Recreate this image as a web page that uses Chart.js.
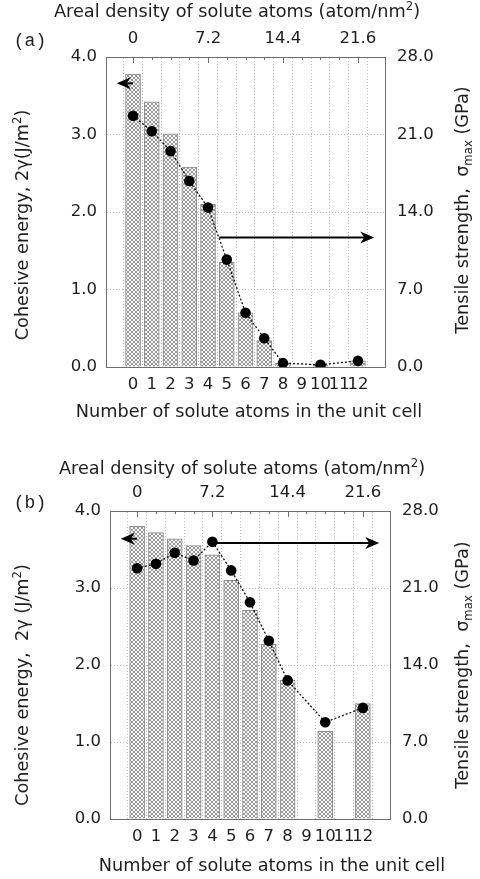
<!DOCTYPE html>
<html>
<head>
<meta charset="utf-8">
<script src="https://cdn.jsdelivr.net/npm/chart.js@4.4.1/dist/chart.umd.min.js"></script>
<style>
  html, body { margin: 0; padding: 0; background: #fff; }
  .box { position: relative; width: 480px; }
</style>
</head>
<body>
<div class="box" style="height:450px"><canvas id="graph-a"></canvas></div>
<div class="box" style="height:429px"><canvas id="graph-b"></canvas></div>
<script>
// x categories: number of solute atoms in the unit cell
const atoms = [0, 1, 2, 3, 4, 5, 6, 7, 8, 9, 10, 11, 12];
// top axis: areal density (atom/nm2) per atom
const densityPerAtom = 1.8;
const densityTicks = [0, 7.2, 14.4, 21.6];

// panel (a)
const energyA   = [3.78, 3.42, 3.01, 2.58, 2.10, 1.35, 0.70, 0.34, 0.05, null, 0.02, null, 0.08];
const strengthA = [22.7, 21.3, 19.5, 16.8, 14.4, 9.7, 4.9, 2.6, 0.35, null, 0.2, null, 0.55];
// arrows: [start atom, value]  left one on energy axis, right one on strength axis
const leftArrowA  = [0, 3.66];
const rightArrowA = [4.6, 11.7];

// panel (b)
const energyB   = [3.80, 3.72, 3.64, 3.55, 3.43, 3.10, 2.71, 2.27, 1.80, null, 1.14, null, 1.50];
const strengthB = [22.8, 23.2, 24.2, 23.5, 25.2, 22.6, 19.7, 16.2, 12.6, null, 8.8, null, 10.1];
const leftArrowB  = [0, 3.64];
const rightArrowB = [4, 25.1];

const FONT = 'DejaVu Sans';
const INK = '#1e1e1e';
const FRAME = '#6e6e6e';

function hatchPattern() {
  const c = document.createElement('canvas');
  c.width = 4; c.height = 4;
  const g = c.getContext('2d');
  g.fillStyle = '#f6f6f6';
  g.fillRect(0, 0, 4, 4);
  g.fillStyle = '#999';
  [[0,0],[1,1],[2,2],[3,3],[3,0],[2,1],[1,2],[0,3]].forEach(p => g.fillRect(p[0], p[1], 1, 1));
  return g.createPattern(c, 'repeat');
}

function toPoints(vals) {
  return atoms.map((a, i) => ({x: a, y: vals[i]})).filter(p => p.y !== null);
}

function richText(ctx, parts, x, y, size, rot) {
  ctx.save();
  ctx.translate(x, y);
  ctx.rotate(rot || 0);
  const fontOf = p => ((p.sup || p.sub) ? size * 0.66 : size) + 'px "' + FONT + '"';
  let w = 0;
  parts.forEach(p => { ctx.font = fontOf(p); w += ctx.measureText(p.t).width; });
  let cx = -w / 2;
  ctx.textAlign = 'left';
  ctx.textBaseline = 'alphabetic';
  ctx.fillStyle = INK;
  const base = size * 0.36;
  parts.forEach(p => {
    ctx.font = fontOf(p);
    const dy = p.sup ? -size * 0.42 : p.sub ? size * 0.22 : 0;
    ctx.fillText(p.t, cx, base + dy);
    cx += ctx.measureText(p.t).width;
  });
  ctx.restore();
}

function arrow(ctx, x0, x1, yy) {
  const d = Math.sign(x1 - x0);
  ctx.save();
  ctx.strokeStyle = '#000';
  ctx.fillStyle = '#000';
  ctx.lineWidth = 2;
  ctx.beginPath();
  ctx.moveTo(x0, yy);
  ctx.lineTo(x1 - d * 8, yy);
  ctx.stroke();
  ctx.beginPath();
  ctx.moveTo(x1, yy);
  ctx.lineTo(x1 - d * 14, yy - 6);
  ctx.lineTo(x1 - d * 10, yy);
  ctx.lineTo(x1 - d * 14, yy + 6);
  ctx.closePath();
  ctx.fill();
  ctx.restore();
}

const decor = {
  id: 'decor',
  afterDatasetsDraw(chart, args, o) {
    const {ctx, chartArea: a, scales: {x, x2, y, y2}} = chart;
    // small inward ticks under the top axis
    ctx.save();
    ctx.strokeStyle = FRAME;
    ctx.lineWidth = 1;
    x2.ticks.forEach(t => {
      const px = Math.round(x2.getPixelForValue(t.value)) + 0.5;
      const major = densityTicks.some(d => Math.abs(d - t.value) < 1e-6);
      ctx.beginPath();
      ctx.moveTo(px, a.top);
      ctx.lineTo(px, a.top + (major ? 6 : 3));
      ctx.stroke();
    });
    ctx.restore();
    arrow(ctx, x.getPixelForValue(o.leftArrow[0]), x.getPixelForValue(x.min), y.getPixelForValue(o.leftArrow[1]));
    arrow(ctx, x.getPixelForValue(o.rightArrow[0]), x.getPixelForValue(x.max), y2.getPixelForValue(o.rightArrow[1]));
  },
  afterDraw(chart, args, o) {
    const {ctx} = chart;
    const L = o.layout;
    ctx.save();
    ctx.font = '18px "Liberation Mono"';
    ctx.fillStyle = INK;
    ctx.textAlign = 'center';
    ctx.textBaseline = 'middle';
    ctx.fillText(o.tag, L.tag[0], L.tag[1]);
    ctx.restore();
    richText(ctx, [{t: 'Areal density of solute atoms (atom/nm'}, {t: '2', sup: true}, {t: ')'}], L.top[0], L.top[1], 17.7);
    richText(ctx, [{t: 'Number of solute atoms in the unit cell'}], L.bottom[0], L.bottom[1], 17.7);
    richText(ctx, o.leftTitle, L.left[0], L.left[1], 17.7, -Math.PI / 2);
    richText(ctx, [{t: 'Tensile strength,  σ'}, {t: 'max', sub: true}, {t: ' (GPa)'}], L.right[0], L.right[1], 17.7, -Math.PI / 2);
  }
};

function makeChart(id, energy, strength, leftArrow, rightArrow, tag, leftTitle, L) {
  const xMin = -0.87, xMax = 12.87;
  const tickFont = {family: FONT, size: 16.5};
  const border = {display: true, color: FRAME, width: 1};
  const dottedBorder = {display: true, color: FRAME, width: 1, dash: [1, 2]};
  const dotted = {color: '#bdbdbd', lineWidth: 1, drawTicks: false};
  return new Chart(document.getElementById(id).getContext('2d'), {
    type: 'bar',
    data: {
      datasets: [{
        type: 'line',
        data: toPoints(strength),
        xAxisID: 'x',
        yAxisID: 'y2',
        borderColor: '#111',
        borderWidth: 1.3,
        borderDash: [2, 2],
        pointRadius: 5.3,
        pointBackgroundColor: '#000',
        pointBorderWidth: 0,
        tension: 0
      }, {
        type: 'bar',
        data: toPoints(energy),
        xAxisID: 'x',
        yAxisID: 'y',
        backgroundColor: hatchPattern(),
        borderColor: '#8c8c8c',
        borderWidth: 1,
        barThickness: 15
      }]
    },
    options: {
      responsive: true,
      maintainAspectRatio: false,
      animation: false,
      layout: {padding: 0},
      plugins: {
        legend: {display: false},
        tooltip: {enabled: false},
        decor: {tag, leftTitle, leftArrow, rightArrow, layout: L}
      },
      scales: {
        x: {
          type: 'linear', position: 'bottom', min: xMin, max: xMax,
          afterBuildTicks: s => { s.ticks = atoms.map(v => ({value: v})); },
          afterFit: s => { s.height = L.h - L.area[3]; },
          ticks: {autoSkip: false, maxRotation: 0, padding: 8, color: INK, font: tickFont, callback: v => String(v)},
          grid: {display: false, drawTicks: false},
          border
        },
        x2: {
          type: 'linear', position: 'top', min: xMin * densityPerAtom, max: xMax * densityPerAtom,
          afterBuildTicks: s => { s.ticks = atoms.map(v => ({value: v * densityPerAtom})); },
          afterFit: s => { s.height = L.area[1]; },
          ticks: {
            autoSkip: false, maxRotation: 0, padding: 8, color: INK, font: tickFont,
            callback: v => { const d = densityTicks.find(t => Math.abs(t - v) < 1e-6); return d === undefined ? '' : String(d); }
          },
          grid: dotted,
          border: dottedBorder
        },
        y: {
          position: 'left', min: 0, max: 4,
          afterFit: s => { s.width = L.area[0]; },
          ticks: {stepSize: 1, padding: 9, color: INK, font: tickFont, callback: v => v.toFixed(1)},
          grid: dotted,
          border: dottedBorder
        },
        y2: {
          position: 'right', min: 0, max: 28,
          afterFit: s => { s.width = 480 - L.area[2]; },
          ticks: {stepSize: 7, padding: 12, color: INK, font: tickFont, callback: v => v.toFixed(1)},
          grid: {display: false, drawTicks: false},
          border
        }
      }
    },
    plugins: [decor]
  });
}

makeChart('graph-a', energyA, strengthA, leftArrowA, rightArrowA, '(a)',
  [{t: 'Cohesive energy, 2γ(J/m'}, {t: '2', sup: true}, {t: ')'}],
  {area: [106, 57, 385, 367], h: 450, tag: [30, 41], top: [237, 11], bottom: [249, 411], left: [22, 225], right: [462, 210]});

makeChart('graph-b', energyB, strengthB, leftArrowB, rightArrowB, '(b)',
  [{t: 'Cohesive energy,  2γ (J/m'}, {t: '2', sup: true}, {t: ')'}],
  {area: [110, 61, 390, 369], h: 429, tag: [30, 53], top: [242, 18], bottom: [272, 415], left: [22, 235], right: [462, 215]});
</script>
</body>
</html>
